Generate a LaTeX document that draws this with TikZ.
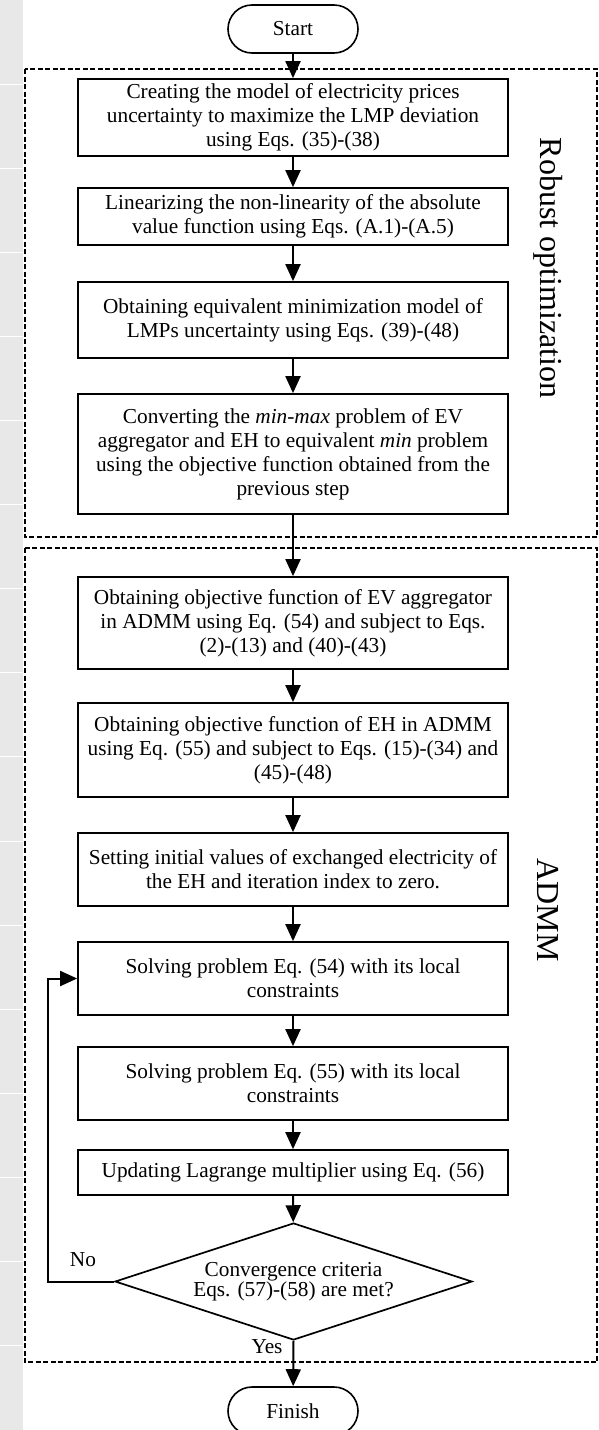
\documentclass[tikz,border=0pt]{standalone}
\usepackage{fontspec}
\setmainfont{Liberation Serif}
\usetikzlibrary{arrows.meta,shapes.geometric}
\begin{document}
\begin{tikzpicture}[x=1pt,y=-1pt,
  font=\fontsize{21.3}{24}\selectfont,
  procbox/.style={draw,line width=1.7pt,minimum width=430pt,inner sep=0pt,align=center},
  termbox/.style={draw,line width=1.6pt,rounded corners=24pt,minimum width=130pt,minimum height=48pt,inner sep=0pt},
  groupbox/.style={draw,line width=2.6pt,dash pattern=on 5pt off 2.5pt},
  flow/.style={line width=2pt,-{Triangle[length=17pt,width=15pt]}},
  decbox/.style={draw,line width=1.7pt,diamond,aspect=3.05,minimum width=357pt,minimum height=117pt,inner sep=0pt,align=center,font=\fontsize{21.3}{20}\selectfont},
  sidelabel/.style={rotate=-90,font=\fontsize{32}{34}\selectfont}
]
\useasboundingbox (0,0) rectangle (598,1430);
% left grey strip
\fill[gray!18] (0,0) rectangle (23,1430);
\foreach \k in {1,...,16}{\draw[white,line width=1pt] (0,84.1*\k) -- (23,84.1*\k);}
% group frames
\draw[groupbox] (25,69) rectangle (597,537);
\draw[groupbox] (25,548) rectangle (597,1362);
\node[sidelabel] (lrob) at (548,268) {Robust optimization};
\node[sidelabel] (ladmm) at (548,910) {ADMM};
% nodes
\node[termbox] (start) at (293,29) {Start};
\node[procbox,minimum height=77pt] (b1) at (293,117.5) {Creating the model of electricity prices\\uncertainty to maximize the LMP deviation\\using Eqs. (35)-(38)};
\node[procbox,minimum height=57pt] (b2) at (293,216.5) {Linearizing the non-linearity of the absolute\\value function using Eqs. (A.1)-(A.5)};
\node[procbox,minimum height=76pt] (b3) at (293,320) {Obtaining equivalent minimization model of\\LMPs uncertainty using Eqs. (39)-(48)};
\node[procbox,minimum height=120pt] (b4) at (293,454) {Converting the \textit{min-max} problem of EV\\aggregator and EH to equivalent \textit{min} problem\\using the objective function obtained from the\\previous step};
\node[procbox,minimum height=92pt] (b5) at (293,623) {Obtaining objective function of EV aggregator\\in ADMM using Eq. (54) and subject to Eqs.\\(2)-(13) and (40)-(43)};
\node[procbox,minimum height=94pt] (b6) at (293,750) {Obtaining objective function of EH in ADMM\\using Eq. (55) and subject to Eqs. (15)-(34) and\\(45)-(48)};
\node[procbox,minimum height=73pt] (b7) at (293,869.5) {Setting initial values of exchanged electricity of\\the EH and iteration index to zero.};
\node[procbox,minimum height=73pt] (b8) at (293,978.5) {Solving problem Eq. (54) with its local\\constraints};
\node[procbox,minimum height=73pt] (b9) at (293,1083.5) {Solving problem Eq. (55) with its local\\constraints};
\node[procbox,minimum height=45pt] (b10) at (293,1172.5) {Updating Lagrange multiplier using Eq. (56)};
\node[decbox] (dec) at (293.5,1281.5) {Convergence criteria\\Eqs. (57)-(58) are met?};
\node[termbox] (finish) at (293,1411) {Finish};
\coordinate (fbcorner) at (48,1281.5);
\coordinate (fbtop) at (48,978.5);
% connectors
\draw[flow] (start) -- (b1);
\draw[flow] (b1) -- (b2);
\draw[flow] (b2) -- (b3);
\draw[flow] (b3) -- (b4);
\draw[flow] (b4) -- (b5);
\draw[flow] (b5) -- (b6);
\draw[flow] (b6) -- (b7);
\draw[flow] (b7) -- (b8);
\draw[flow] (b8) -- (b9);
\draw[flow] (b9) -- (b10);
\draw[flow] (b10) -- (dec);
\draw[flow] (dec.south) -- (finish);
\draw[flow] (dec.west) -- (fbcorner) -- (fbtop) -- (b8.west);
\node (lno) at (83,1260) {No};
\node (lyes) at (267,1347) {Yes};
\end{tikzpicture}
\end{document}
